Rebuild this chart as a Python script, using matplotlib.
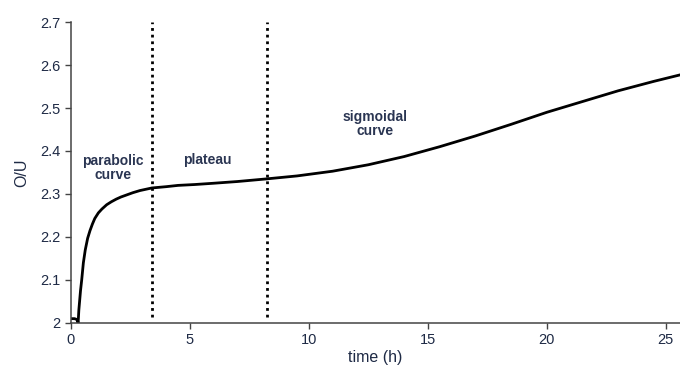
import matplotlib
matplotlib.use("Agg")
import matplotlib.pyplot as plt

plt.rcParams.update({"font.family": ["Liberation Sans", "DejaVu Sans"]})

# O/U ratio vs. oxidation time
time_h = [0, 0.15, 0.25, 0.3, 0.33, 0.4, 0.45, 0.52, 0.6, 0.7, 0.8, 0.9,
          1.0, 1.15, 1.3, 1.5, 1.7, 1.9, 2.1, 2.35, 2.6, 2.9, 3.4, 4.0,
          4.5, 5.2, 6, 7, 8.2, 9.5, 11, 12.5, 14, 15.5, 17, 18.5, 20, 21.5,
          23, 24.5, 25.6]
ou_ratio = [2.01, 2.01, 2.008, 2.0, 2.03, 2.075, 2.10, 2.14, 2.17, 2.197,
            2.215, 2.23, 2.243, 2.256, 2.265, 2.275, 2.282, 2.288, 2.293,
            2.298, 2.303, 2.308, 2.314, 2.317, 2.320, 2.322, 2.325, 2.329,
            2.335, 2.342, 2.353, 2.368, 2.387, 2.41, 2.435, 2.462, 2.49,
            2.515, 2.54, 2.562, 2.577]
stage_bounds = [3.4, 8.25]
stage_labels = ["parabolic\ncurve", "plateau", "sigmoidal\ncurve"]
stage_pos = [(1.75, 2.361), (5.75, 2.38), (12.8, 2.462)]
xticks = [0, 5, 10, 15, 20, 25]
yticks = [2.0, 2.1, 2.2, 2.3, 2.4, 2.5, 2.6, 2.7]
ytick_labels = ["2", "2.1", "2.2", "2.3", "2.4", "2.5", "2.6", "2.7"]

TXT = "#1e2a45"

fig = plt.figure(figsize=(6.8, 3.67), dpi=100, facecolor="white")
ax = fig.add_axes([0.1044, 0.12, 0.8956, 0.82])

ax.plot(time_h, ou_ratio, color="black", lw=2.0, solid_joinstyle="round")
for xb in stage_bounds:
    ax.plot([xb, xb], [2.014, 2.7], color="black", lw=2.0, ls=(0, (1, 1.4)))

for lab, (xx, yy) in zip(stage_labels, stage_pos):
    ax.text(xx, yy, lab, ha="center", va="center", fontsize=10,
            fontweight="bold", color="#2a3552", linespacing=1.0)

ax.set_xlim(0, 25.6)
ax.set_ylim(2.0, 2.7)
ax.set_xticks(xticks)
ax.set_yticks(yticks)
ax.set_yticklabels(ytick_labels)
ax.tick_params(direction="out", length=4, width=1, colors="#444444",
               labelcolor=TXT, labelsize=10.5)
for s in ("top", "right"):
    ax.spines[s].set_visible(False)
for s in ("left", "bottom"):
    ax.spines[s].set_color("#444444")
    ax.spines[s].set_linewidth(1.1)

ax.set_xlabel("time (h)", fontsize=11.5, color=TXT, labelpad=2)
ax.set_ylabel("O/U", fontsize=11.5, color=TXT, labelpad=8)

fig.savefig("out.png", dpi=100, facecolor="white")
